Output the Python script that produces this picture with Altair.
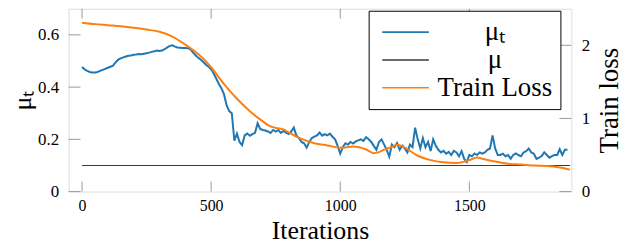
import altair as alt
import pandas as pd

# ---------------- data ----------------
mu_t_iters = list(range(0, 1881, 10))
mu_t_vals = [
    0.477, 0.468, 0.462, 0.458, 0.456, 0.456, 0.458, 0.462, 0.466, 0.470,  # 0-90
    0.474, 0.478, 0.482, 0.495, 0.505, 0.510, 0.514, 0.517, 0.520, 0.521,  # 100-190
    0.524, 0.525, 0.527, 0.526, 0.528, 0.530, 0.532, 0.535, 0.537, 0.540,  # 200-290
    0.538, 0.540, 0.545, 0.552, 0.558, 0.560, 0.555, 0.552, 0.551, 0.550,  # 300-390
    0.550, 0.549, 0.545, 0.532, 0.522, 0.512, 0.505, 0.496, 0.486, 0.478,  # 400-490
    0.468, 0.452, 0.432, 0.412, 0.395, 0.372, 0.330, 0.308, 0.300, 0.195,  # 500-590
    0.222, 0.190, 0.178, 0.215, 0.222, 0.214, 0.220, 0.225, 0.262, 0.240,  # 600-690
    0.236, 0.234, 0.230, 0.224, 0.236, 0.230, 0.236, 0.225, 0.232, 0.226,  # 700-790
    0.220, 0.230, 0.245, 0.215, 0.205, 0.190, 0.185, 0.168, 0.190, 0.205,  # 800-890
    0.210, 0.215, 0.226, 0.214, 0.220, 0.215, 0.222, 0.210, 0.200, 0.175,  # 900-990
    0.145, 0.170, 0.185, 0.180, 0.190, 0.184, 0.192, 0.196, 0.200, 0.194,  # 1000-1090
    0.208, 0.200, 0.190, 0.175, 0.160, 0.190, 0.200, 0.180, 0.160, 0.134,  # 1100-1190
    0.180, 0.170, 0.186, 0.160, 0.176, 0.165, 0.150, 0.180, 0.170, 0.245,  # 1200-1290
    0.200, 0.165, 0.205, 0.170, 0.190, 0.155, 0.200, 0.175, 0.160, 0.150,  # 1300-1390
    0.156, 0.145, 0.152, 0.140, 0.156, 0.150, 0.135, 0.155, 0.125, 0.113,  # 1400-1490
    0.140, 0.135, 0.146, 0.140, 0.150, 0.145, 0.150, 0.160, 0.165, 0.215,  # 1500-1590
    0.165, 0.140, 0.140, 0.145, 0.135, 0.140, 0.126, 0.140, 0.146, 0.140,  # 1600-1690
    0.135, 0.150, 0.155, 0.165, 0.150, 0.145, 0.125, 0.130, 0.136, 0.150,  # 1700-1790
    0.140, 0.130, 0.136, 0.140, 0.140, 0.162, 0.140, 0.160, 0.160,         # 1800-1880
]

mu_iters = [0, 1890]
mu_vals = [0.1, 0.1]

loss_iters = [0, 50, 100, 150, 200, 250, 300, 350, 400, 450, 500, 550, 600,
              650, 700, 720, 750, 780, 800, 850, 900, 950, 1000, 1050, 1100,
              1130, 1150, 1175, 1200, 1220, 1250, 1300, 1350, 1400, 1450, 1500,
              1530, 1550, 1600, 1650, 1700, 1750, 1800, 1850, 1890]
loss_vals = [2.31, 2.29, 2.275, 2.26, 2.24, 2.215, 2.185, 2.12, 2.01, 1.88,
             1.70, 1.47, 1.27, 1.10, 0.96, 0.91, 0.87, 0.85, 0.81, 0.72, 0.66,
             0.63, 0.60, 0.615, 0.575, 0.525, 0.54, 0.58, 0.61, 0.64, 0.60,
             0.49, 0.43, 0.40, 0.39, 0.43, 0.465, 0.45, 0.41, 0.38, 0.37,
             0.355, 0.35, 0.33, 0.30]

x_ticks = [0, 500, 1000, 1500]
left_ticks = [0, 0.2, 0.4, 0.6]
right_ticks = [0, 1, 2]

series_names = ["μₜ", "μ", "Train Loss"]
series_colors = ["#1f77b4", "#3a3a3a", "#ff7f0e"]

# ---------------- layout ----------------
W, H = 506, 184
FONT = "Liberation Serif"

df_mu_t = pd.DataFrame({"x": mu_t_iters, "y": mu_t_vals, "s": series_names[0]})
df_mu = pd.DataFrame({"x": mu_iters, "y": mu_vals, "s": series_names[1]})
df_loss = pd.DataFrame({"x": loss_iters, "y": loss_vals, "s": series_names[2]})
df_xt = pd.DataFrame({"x": x_ticks})
df_lt = pd.DataFrame({"y": left_ticks})
df_rt = pd.DataFrame({"y": right_ticks})

xscale = alt.Scale(domain=[-52, 1895], nice=False, zero=False)
xaxis = alt.Axis(values=x_ticks, format="d", ticks=False, domain=False,
                 grid=False, labelFont=FONT, labelFontSize=16, labelPadding=6,
                 title="Iterations", titleFont=FONT, titleFontSize=26,
                 titleFontWeight="normal", titleBaseline="alphabetic",
                 titleY=47, labelColor="black", titleColor="black")
X = alt.X("x:Q", scale=xscale, axis=xaxis)

lscale = alt.Scale(domain=[0, 0.7], nice=False)
laxis = alt.Axis(values=left_ticks, format="~g", ticks=False, domain=False,
                 grid=False, labelFont=FONT, labelFontSize=17, labelPadding=10,
                 title="μₜ", titleFont=FONT, titleFontSize=26,
                 titleFontWeight="normal", titleAngle=270,
                 titleBaseline="alphabetic", titleX=-38, titleY=H / 2,
                 titleAlign="center", labelColor="black", titleColor="black")
YL = alt.Y("y:Q", scale=lscale, axis=laxis)

rscale = alt.Scale(domain=[0, 2.5], nice=False)
raxis = alt.Axis(orient="right", values=right_ticks, format="~g", ticks=False,
                 domain=False, grid=False, labelFont=FONT, labelFontSize=17,
                 labelPadding=10, title="Train loss", titleFont=FONT,
                 titleFontSize=27, titleFontWeight="normal", titleAngle=270,
                 titleBaseline="alphabetic", titleX=46, titleY=H / 2,
                 titleAlign="center", labelColor="black", titleColor="black")
YR = alt.Y("y:Q", scale=rscale, axis=raxis)

color = alt.Color(
    "s:N",
    scale=alt.Scale(domain=series_names, range=series_colors),
    legend=alt.Legend(
        title=None, orient="none", legendX=302, legendY=2,
        symbolType="M-1,0H5", symbolSize=245, symbolStrokeWidth=1.6,
        labelFontSize=27, labelFont=FONT, labelAlign="center",
        labelOffset=92, labelLimit=300, rowPadding=0,
        strokeColor="black", padding=8, fillColor="white",
        labelColor="black",
    ),
)

tick_color = "#9a9a9a"

mu_t_line = alt.Chart(df_mu_t).mark_line(strokeWidth=2).encode(
    x=X, y=YL, color=color)
mu_line = alt.Chart(df_mu).mark_line(strokeWidth=1.1).encode(
    x=X, y=YL, color=color)
xt_bottom = alt.Chart(df_xt).mark_rule(color=tick_color, strokeWidth=1).encode(
    x=X, y=alt.value(H - 10), y2=alt.value(H))
xt_top = alt.Chart(df_xt).mark_rule(color=tick_color, strokeWidth=1).encode(
    x=X, y=alt.value(0), y2=alt.value(10))
lt = alt.Chart(df_lt).mark_rule(color=tick_color, strokeWidth=1).encode(
    y=YL, x=alt.value(0), x2=alt.value(12))

left = alt.layer(xt_bottom, xt_top, lt, mu_line, mu_t_line)

rt = alt.Chart(df_rt).mark_rule(color=tick_color, strokeWidth=1).encode(
    y=YR, x=alt.value(W - 12), x2=alt.value(W))
loss_line = alt.Chart(df_loss).mark_line(strokeWidth=2, interpolate="monotone").encode(
    x=X, y=YR, color=color)

right = alt.layer(rt, loss_line)

chart = alt.layer(left, right).resolve_scale(y="independent").properties(
    width=W, height=H,
    autosize=alt.AutoSizeParams(type="none"),
    padding={"left": 61, "top": 0, "right": 53, "bottom": 52},
).configure_view(stroke="black", strokeWidth=1.3).configure(
    font=FONT
)

chart.save("out.html", embed_options={"renderer": "svg", "actions": False})
